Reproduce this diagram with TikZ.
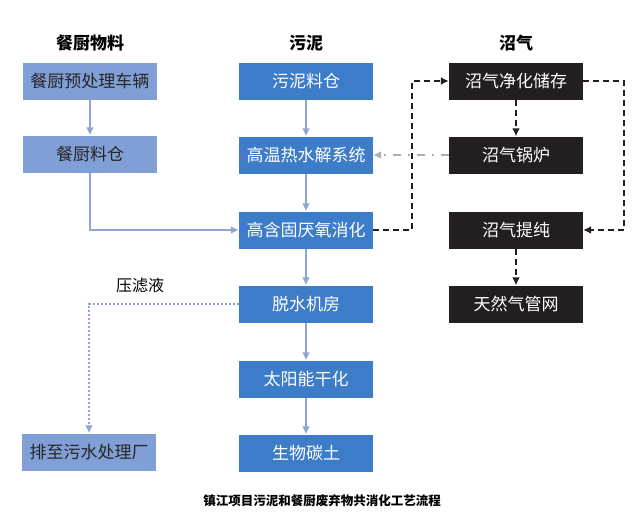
\documentclass[tikz,border=0pt]{standalone}
\usepackage{fontspec}
\setmainfont{Noto Sans CJK SC}
\usetikzlibrary{calc,arrows.meta}
\definecolor{kitchen}{HTML}{809FD6}
\definecolor{sludge}{HTML}{3D7CC9}
\definecolor{biogas}{HTML}{231F20}
\definecolor{flowc}{HTML}{8FA6CF}
\definecolor{heatc}{HTML}{A9AEB8}
\tikzstyle{box}=[minimum width=134pt, minimum height=37pt, inner sep=0pt, font=\fontsize{17}{17}\selectfont]
\tikzstyle{kbox}=[box, fill=kitchen, text=black!85]
\tikzstyle{sbox}=[box, fill=sludge, text=white]
\tikzstyle{gbox}=[box, fill=biogas, text=white]
\tikzstyle{head}=[font=\fontsize{17}{17}\selectfont\bfseries]
\tikzstyle{flow}=[draw=flowc, line width=2.6pt, -{Latex[length=8pt,width=8pt]}]
\tikzstyle{gasline}=[draw=biogas, line width=2.6pt, dash pattern=on 6pt off 4pt, -{Latex[length=8pt,width=8pt]}]
\tikzstyle{heat}=[draw=heatc, line width=2.6pt, dash pattern=on 8pt off 7pt on 2pt off 7pt, -{Latex[length=8pt,width=8pt]}]
\tikzstyle{filtrate}=[draw=flowc, line width=2.6pt, dash pattern=on 2pt off 2pt, -{Latex[length=8pt,width=8pt]}]

\begin{document}
\begin{tikzpicture}[x=1pt,y=-1pt]
\useasboundingbox[fill=white] (0,0) rectangle (640,530);
% column heads
\node[head] (hk) at (90,43) {餐厨物料};
\node[head] (hs) at (306,43) {污泥};
\node[head] (hg) at (516,43) {沼气};
% kitchen waste
\node[kbox] (k1) at (90,81) {餐厨预处理车辆};
\node[kbox] (k2) at (90,154) {餐厨料仓};
\node[kbox] (w1) at (89,452) {排至污水处理厂};
% sludge line
\node[sbox] (s1) at (306,81) {污泥料仓};
\node[sbox] (s2) at (306,155) {高温热水解系统};
\node[sbox] (s3) at (306,230) {高含固厌氧消化};
\node[sbox] (s4) at (306,304) {脱水机房};
\node[sbox] (s5) at (306,379) {太阳能干化};
\node[sbox] (s6) at (306,453) {生物碳土};
% biogas line
\node[gbox] (g1) at (516,81) {沼气净化储存};
\node[gbox] (g2) at (516,155) {沼气锅炉};
\node[gbox] (g3) at (516,230) {沼气提纯};
\node[gbox] (g4) at (516,304) {天然气管网};
\coordinate (gl) at (412,0);
\coordinate (gr) at (624,0);
% connectors
\draw[flow] (k1) -- (k2);
\draw[flow] (k2) |- (s3);
\draw[flow] (s1) -- (s2);
\draw[flow] (s2) -- (s3);
\draw[flow] (s3) -- (s4);
\draw[flow] (s4) -- (s5);
\draw[flow] (s5) -- (s6);
\draw[filtrate] (s4) -| (w1);
\node[font=\fontsize{16}{16}\selectfont] (fl) at (140,285) {压滤液};
\draw[gasline] (s3.east) -- (s3.east -| gl) |- (g1.west);
\draw[gasline] (g1.east) -- (g1.east -| gr) |- (g3.east);
\draw[gasline] (g1) -- (g2);
\draw[gasline] (g3) -- (g4);
\draw[heat] (g2) -- (s2);
% caption
\node[font=\fontsize{12.5}{12.5}\selectfont\bfseries] (cap) at (322,501) {镇江项目污泥和餐厨废弃物共消化工艺流程};
\end{tikzpicture}
\end{document}
